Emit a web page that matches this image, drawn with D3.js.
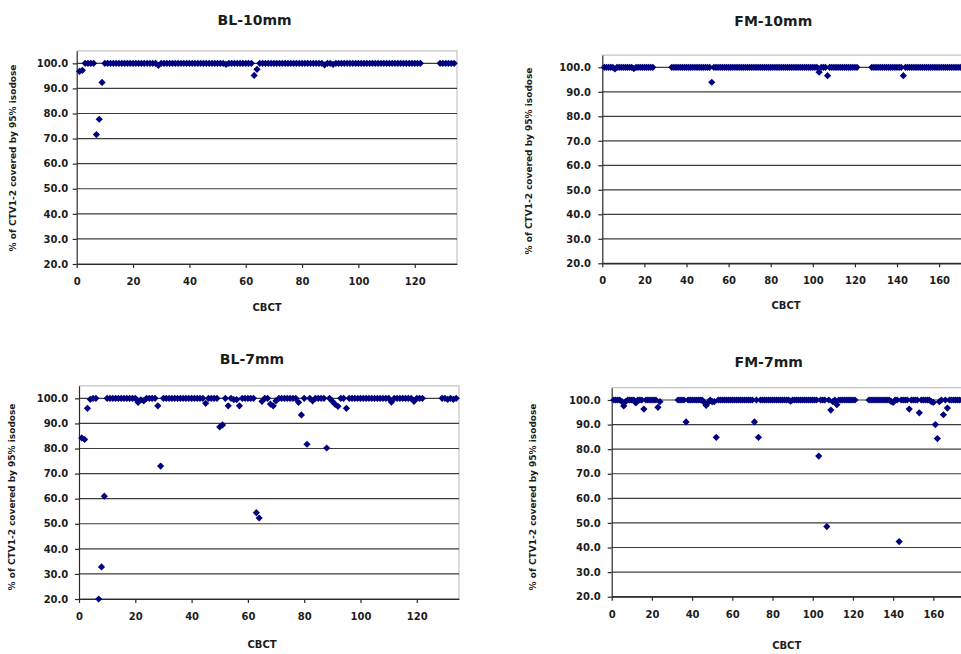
<!DOCTYPE html>
<html><head><meta charset="utf-8">
<script src="https://cdn.jsdelivr.net/npm/d3@7"></script>
<style>
body{margin:0;background:#fff}
svg{display:block}
text{font-family:"DejaVu Sans",sans-serif;font-weight:bold;fill:#1c1c1c}
</style>
</head><body>
<svg id="chart" width="961" height="654"></svg>
<script>
// ---------- data ----------
const titles = ["BL-10mm", "FM-10mm", "BL-7mm", "FM-7mm"];
const xLabel = "CBCT";
const yLabel = "% of CTV1-2 covered by 95% isodose";
const yTicks = [20, 30, 40, 50, 60, 70, 80, 90, 100];
const xTicksBL = [0, 20, 40, 60, 80, 100, 120];
const xTicksFM = [0, 20, 40, 60, 80, 100, 120, 140, 160];
const xMaxBL = 135, xMaxFM = 175, yMin = 20, yMax = 105;

// values per CBCT number (1, 2, 3, ...); null = no scan
const bl10 = [
96.8,97.2,100,100,100,100,71.6,77.7,92.4,100,
100,100,100,100,100,100,100,100,100,100,
100,100,100,100,100,100,100,100,99.2,100,
100,100,100,100,100,100,100,100,100,100,
100,100,100,100,100,100,100,100,100,100,
100,100,99.6,100,100,100,100,100,100,100,
100,100,95.2,97.6,100,100,100,100,100,100,
100,100,100,100,100,100,100,100,100,100,
100,100,100,100,100,100,100,99.4,100,100,
99.6,100,100,100,100,100,100,100,100,100,
100,100,100,100,100,100,100,100,100,100,
100,100,100,100,100,100,100,100,100,100,
100,100,null,null,null,null,null,null,100,100,
100,100,100,100];

const fm10 = [
100,100,100,100,100,99.3,100,100,100,100,
100,100,100,100,99.5,100,100,100,100,100,
100,100,100,100,null,null,null,null,null,null,
null,null,100,100,100,100,100,100,100,100,
100,100,100,100,100,100,100,100,100,100,
100,93.9,100,100,100,100,100,100,100,100,
100,100,100,100,100,100,100,100,100,100,
100,100,100,100,100,100,100,100,100,100,
100,100,100,100,100,100,100,100,100,100,
100,100,100,100,100,100,100,100,100,100,
100,100,98.0,100,100,100,96.6,100,100,100,
100,100,100,100,100,100,100,100,100,100,
100,null,null,null,null,null,null,100,100,100,
100,100,100,100,100,100,100,100,100,100,
100,100,96.6,100,100,100,100,100,100,100,
100,100,100,100,100,100,100,100,100,100,
100,100,100,100,100,100,100,100,100,100,
100,100,100,100];

const bl7 = [
84.2,83.6,96.0,99.6,100,100,20.0,32.8,61.0,100,
100,100,100,100,100,100,100,100,100,100,
98.4,99.4,99.0,100,100,100,100,97.0,73.0,100,
100,100,100,100,100,100,100,100,100,100,
100,100,100,100,98.0,100,100,100,100,88.6,
89.4,100,97.0,100,99.5,99.5,97.0,100,100,100,
100,100,54.4,52.3,98.8,100,100,97.7,97.0,99.0,
100,100,100,100,100,100,100,98.4,93.4,100,
81.7,100,99.0,100,100,100,100,80.2,100,98.8,
97.6,96.8,100,100,96.0,100,100,100,100,100,
100,100,100,100,100,100,100,100,100,100,
98.5,100,100,100,100,100,100,100,98.8,100,
100,100,null,null,null,null,null,null,100,100,
99.6,100,99.6,100];

const fm7 = [
100,100,100,100,99.4,97.6,99.4,100,100,100,
100,98.8,100,100,100,96.3,100,100,100,100,
100,100,97.0,99.3,null,null,null,null,null,null,
null,null,100,100,100,100,91.1,100,100,100,
100,100,100,100,100,99.0,97.8,99.0,100,99.3,
99.3,84.8,100,100,100,100,100,100,100,100,
100,100,100,100,100,100,100,100,100,100,
91.1,100,84.8,100,100,100,100,100,100,100,
100,100,100,100,100,100,100,100,99.5,100,
100,100,100,100,100,100,100,100,100,100,
100,100,77.2,100,100,100,48.5,100,95.9,99.3,
100,98.1,100,100,100,100,100,100,100,100,
100,null,null,null,null,null,null,100,100,100,
100,100,100,100,100,100,100,100,99.4,99.0,
100,100,42.4,100,100,100,100,96.3,100,100,
100,100,94.8,100,100,100,100,100,99.3,99.0,
90.0,84.3,99.3,100,94.0,100,96.7,100,100,100,
100,100,100,100];

// ---------- layout ----------
const panels = [
  {title: titles[0], values: bl10, xMax: xMaxBL, xTicks: xTicksBL,
   left: 76.7, right: 457, top: 50.8, bottom: 264, yPad: 4.4,
   tX: 254.6, tY: 25, cX: 267, cY: 310.6, lX: 13, lY: 158},
  {title: titles[1], values: fm10, xMax: xMaxFM, xTicks: xTicksFM,
   left: 602.3, right: 970.7, top: 55.05, bottom: 263.3, yPad: 7.3,
   tX: 773.3, tY: 26, cX: 786, cY: 308.6, lX: 529, lY: 161},
  {title: titles[2], values: bl7, xMax: xMaxBL, xTicks: xTicksBL,
   left: 79, right: 459, top: 385.8, bottom: 599, yPad: 6.7,
   tX: 252, tY: 364, cX: 262, cY: 647.6, lX: 12, lY: 497},
  {title: titles[3], values: fm7, xMax: xMaxFM, xTicks: xTicksFM,
   left: 611.7, right: 963.5, top: 387.7, bottom: 596.7, yPad: 7,
   tX: 768.7, tY: 367, cX: 786.7, cY: 648.6, lX: 533, lY: 497}
];

const svg = d3.select("#chart");
const diamond = r => `M0,${-r}L${r},0L0,${r}L${-r},0Z`;

panels.forEach(p => {
  const x = d3.scaleLinear().domain([0, p.xMax]).range([p.left, p.right]);
  const y = d3.scaleLinear().domain([yMin, yMax]).range([p.bottom, p.top]);
  const g = svg.append("g");

  // plot-area frame (light grey top/right)
  g.append("path")
    .attr("d", `M${p.left},${p.top}H${p.right}V${p.bottom}`)
    .attr("fill", "none").attr("stroke", "#c4c4c4").attr("stroke-width", 1.2);

  // gridlines
  g.append("g").selectAll("line").data(yTicks).join("line")
    .attr("x1", p.left).attr("x2", p.right)
    .attr("y1", d => y(d)).attr("y2", d => y(d))
    .attr("stroke", "#3c3c3c").attr("stroke-width", 1.2);

  // axes
  const ax = g.append("g").attr("transform", `translate(0,${p.bottom})`)
    .call(d3.axisBottom(x).tickValues(p.xTicks).tickSize(4).tickSizeOuter(0)
      .tickPadding(10).tickFormat(d3.format("d")));
  const ay = g.append("g").attr("transform", `translate(${p.left},0)`)
    .call(d3.axisLeft(y).tickValues(yTicks).tickSize(4).tickSizeOuter(0)
      .tickPadding(p.yPad).tickFormat(d3.format(".1f")));
  [ax, ay].forEach(a => {
    a.selectAll("path,line").attr("stroke", "#2a2a2a").attr("stroke-width", 1.2);
    a.selectAll("text").attr("font-size", 10)
      .style("font-family", '"DejaVu Sans",sans-serif').style("font-weight", "bold").attr("fill", "#1c1c1c");
  });

  // markers
  const pts = p.values.map((v, i) => ({i: i + 1, v})).filter(d => d.v !== null);
  g.append("g").selectAll("path").data(pts).join("path")
    .attr("d", diamond(3.6))
    .attr("transform", d => `translate(${x(d.i)},${y(d.v)})`)
    .attr("fill", "#000080");

  // texts
  g.append("text").attr("x", p.tX).attr("y", p.tY).attr("text-anchor", "middle")
    .attr("font-size", 14).text(p.title);
  g.append("text").attr("x", p.cX).attr("y", p.cY).attr("text-anchor", "middle")
    .attr("font-size", 10).text(xLabel);
  g.append("text").attr("transform", `translate(${p.lX},${p.lY}) rotate(-90)`)
    .attr("text-anchor", "middle").attr("dominant-baseline", "central")
    .attr("font-size", 9).text(yLabel);
});
</script>
</body></html>
